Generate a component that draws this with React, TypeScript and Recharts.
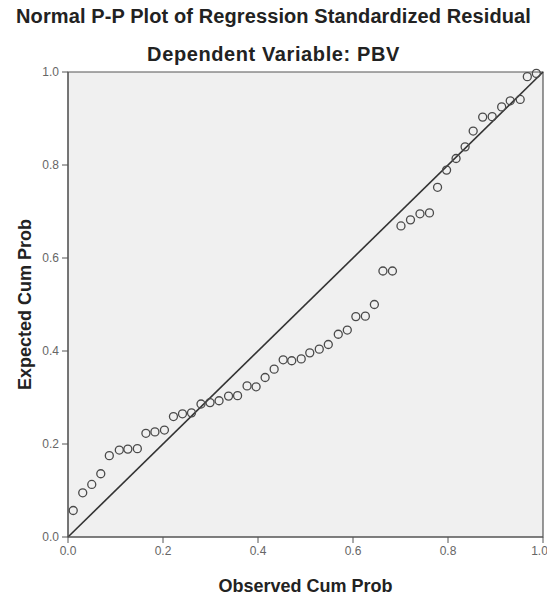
import React from 'react'
import {
  ScatterChart,
  Scatter,
  XAxis,
  YAxis,
  CartesianGrid,
  ReferenceLine,
  ReferenceArea,
} from 'recharts'

// observed cumulative probability (x) and expected cumulative probability (y)
const observed = [
  0.011, 0.031, 0.05, 0.069, 0.087, 0.108, 0.126, 0.146, 0.164, 0.183, 0.203, 0.222, 0.241,
  0.26, 0.28, 0.299, 0.318, 0.338, 0.357, 0.377, 0.396, 0.415, 0.434, 0.453, 0.471, 0.491,
  0.509, 0.529, 0.548, 0.569, 0.588, 0.606, 0.626, 0.645, 0.663, 0.683, 0.701, 0.721, 0.741,
  0.761, 0.778, 0.797, 0.817, 0.836, 0.853, 0.873, 0.893, 0.913, 0.931, 0.952, 0.967, 0.986,
]
const expected = [
  0.057, 0.095, 0.113, 0.136, 0.175, 0.187, 0.189, 0.19, 0.223, 0.226, 0.23, 0.259, 0.265,
  0.267, 0.286, 0.289, 0.293, 0.303, 0.304, 0.325, 0.323, 0.343, 0.361, 0.381, 0.379, 0.383,
  0.396, 0.404, 0.414, 0.436, 0.445, 0.474, 0.475, 0.5, 0.572, 0.572, 0.669, 0.682, 0.695,
  0.697, 0.752, 0.789, 0.814, 0.839, 0.873, 0.903, 0.904, 0.925, 0.938, 0.941, 0.99, 0.997,
]
const ticks = [0, 0.2, 0.4, 0.6, 0.8, 1]

const title = 'Normal P-P Plot of Regression Standardized Residual'
const subtitle = 'Dependent Variable: PBV'
const xLabel = 'Observed Cum Prob'
const yLabel = 'Expected Cum Prob'

const points = observed.map((x, i) => ({ x, y: expected[i] }))

const font = '"Liberation Sans", Arial, sans-serif'

const Dot = (props: any) => (
  <circle cx={props.cx} cy={props.cy} r={4} fill="none" stroke="#4a4a4a" strokeWidth={1.3} />
)

const titleStyle: React.CSSProperties = {
  position: 'absolute',
  left: 0,
  width: 547,
  textAlign: 'center',
  fontWeight: 'bold',
  color: '#222',
}

export default function App() {
  return (
    <div
      style={{
        position: 'absolute',
        left: 0,
        top: 0,
        width: 547,
        height: 597,
        background: '#fff',
        fontFamily: font,
      }}
    >
      <div style={{ ...titleStyle, top: 5, fontSize: 20, letterSpacing: 0.1 }}>{title}</div>
      <div style={{ ...titleStyle, top: 43, fontSize: 20, letterSpacing: 0.6 }}>{subtitle}</div>
      <ScatterChart width={547} height={597} margin={{ top: 72, right: 4, bottom: 0, left: 0 }}>
        <CartesianGrid fill="#f0f0f0" horizontal={false} vertical={false} />
        <XAxis
          type="number"
          dataKey="x"
          domain={[0, 1]}
          ticks={ticks}
          tickFormatter={(v) => v.toFixed(1)}
          height={60}
          tickSize={6}
          tickMargin={3}
          stroke="#555"
          tick={{ fill: '#666', fontSize: 12, fontFamily: font }}
          label={{
            value: xLabel,
            position: 'insideBottom',
            offset: 5,
            style: { fontWeight: 'bold', fontSize: 18, fill: '#222', fontFamily: font },
          }}
        />
        <YAxis
          type="number"
          dataKey="y"
          domain={[0, 1]}
          ticks={ticks}
          tickFormatter={(v) => v.toFixed(1)}
          width={68}
          tickSize={6}
          tickMargin={3}
          stroke="#555"
          tick={{ fill: '#666', fontSize: 12, fontFamily: font }}
          label={{
            value: yLabel,
            angle: -90,
            position: 'insideLeft',
            offset: 25,
            style: { fontWeight: 'bold', fontSize: 18, fill: '#222', fontFamily: font, textAnchor: 'middle' },
          }}
        />
        <ReferenceArea x1={0} x2={1} y1={0} y2={1} fill="none" stroke="#555" strokeWidth={1.2} />
        <ReferenceLine
          segment={[
            { x: 0, y: 0 },
            { x: 1, y: 1 },
          ]}
          stroke="#333"
          strokeWidth={1.6}
        />
        <Scatter data={points} shape={Dot} isAnimationActive={false} />
      </ScatterChart>
    </div>
  )
}
